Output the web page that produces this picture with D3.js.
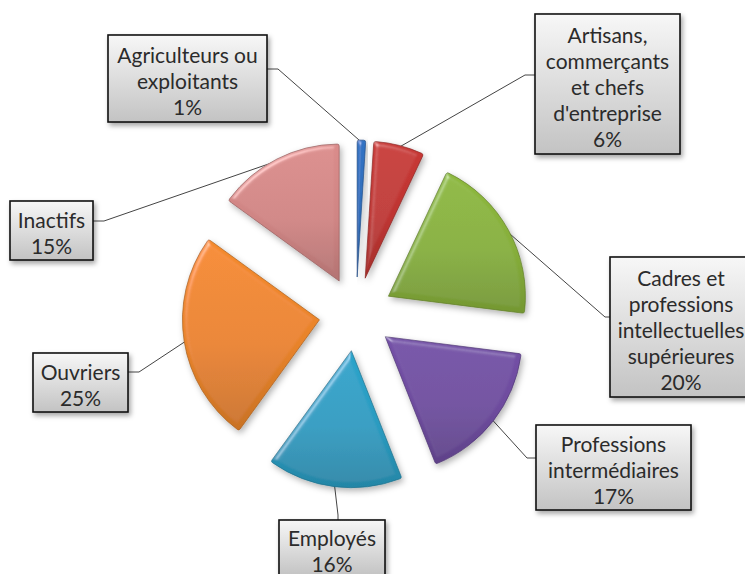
<!DOCTYPE html>
<html>
<head>
<meta charset="utf-8">
<script src="https://cdn.jsdelivr.net/npm/d3@7"></script>
<style>
body { margin: 0; background: #fff; }
svg { display: block; font-family: Lato, "Noto Sans", sans-serif; }
</style>
</head>
<body>
<div id="chart"></div>
<script>
// data
const categories = [
  "Agriculteurs ou exploitants",
  "Artisans, commerçants et chefs d'entreprise",
  "Cadres et professions intellectuelles supérieures",
  "Professions intermédiaires",
  "Employés",
  "Ouvriers",
  "Inactifs"
];
const values = [1, 6, 20, 17, 16, 25, 15];
const labelLines = [
  ["Agriculteurs ou", "exploitants"],
  ["Artisans,", "commerçants", "et chefs", "d'entreprise"],
  ["Cadres et", "professions", "intellectuelles", "supérieures"],
  ["Professions", "intermédiaires"],
  ["Employés"],
  ["Ouvriers"],
  ["Inactifs"]
];
const colors = ["#2F6DBA", "#BE3532", "#86AE3A", "#6E4C9E", "#2A9BC0", "#E8832A", "#CF8584"];

// layout of the label boxes (x, y, w, h) and leader start / elbow
const boxes = [
  {x: 108, y: 35,  w: 159, h: 87,  sx: 267, sy: 69,  ex: 278, ey: 69},
  {x: 535, y: 14,  w: 145, h: 140, sx: 535, sy: 75,  ex: 525, ey: 75},
  {x: 610, y: 257, w: 142, h: 140, sx: 610, sy: 317, ex: 605, ey: 317},
  {x: 536, y: 425, w: 155, h: 85,  sx: 536, sy: 458, ex: 527, ey: 458},
  {x: 279, y: 520, w: 106, h: 56,  sx: 338, sy: 520, ex: 338, ey: 515},
  {x: 33,  y: 353, w: 95,  h: 59,  sx: 128, sy: 372, ex: 139, ey: 372},
  {x: 10,  y: 201, w: 83,  h: 59,  sx: 93,  sy: 221, ex: 104, ey: 221}
];

const width = 745;
const height = 574;
const cx = 356, cy = 314;
const radius = 137;
const explode = 37;
const lineH = 26;

const svg = d3.select("#chart")
  .append("svg")
  .attr("width", width)
  .attr("height", height);

const defs = svg.append("defs");

// bevel + shadow for slices
const bevel = defs.append("filter").attr("id", "bevel")
  .attr("x", "-20%").attr("y", "-20%").attr("width", "140%").attr("height", "140%");
bevel.append("feGaussianBlur").attr("in", "SourceAlpha").attr("stdDeviation", 2.5).attr("result", "b");
bevel.append("feSpecularLighting").attr("in", "b").attr("surfaceScale", 3)
  .attr("specularConstant", 0.8).attr("specularExponent", 28)
  .attr("lighting-color", "#ffffff").attr("result", "s")
  .append("feDistantLight").attr("azimuth", 235).attr("elevation", 40);
bevel.append("feComposite").attr("in", "s").attr("in2", "SourceAlpha").attr("operator", "in").attr("result", "s2");
bevel.append("feComposite").attr("in", "SourceGraphic").attr("in2", "s2")
  .attr("operator", "arithmetic").attr("k1", 0).attr("k2", 1).attr("k3", 0.4).attr("k4", 0).attr("result", "lit");
bevel.append("feGaussianBlur").attr("in", "SourceAlpha").attr("stdDeviation", 3).attr("result", "sb");
bevel.append("feOffset").attr("in", "sb").attr("dx", 2).attr("dy", 3).attr("result", "so");
bevel.append("feFlood").attr("flood-color", "#000").attr("flood-opacity", 0.3).attr("result", "fl");
bevel.append("feComposite").attr("in", "fl").attr("in2", "so").attr("operator", "in").attr("result", "shadow");
const m1 = bevel.append("feMerge");
m1.append("feMergeNode").attr("in", "shadow");
m1.append("feMergeNode").attr("in", "lit");

// box shadow
const bshadow = defs.append("filter").attr("id", "boxshadow")
  .attr("x", "-20%").attr("y", "-20%").attr("width", "140%").attr("height", "150%");
bshadow.append("feDropShadow").attr("dx", 2).attr("dy", 3).attr("stdDeviation", 2.5)
  .attr("flood-color", "#000").attr("flood-opacity", 0.35);

colors.forEach((c, i) => {
  const g = defs.append("linearGradient").attr("id", "grad" + i)
    .attr("x1", 0).attr("y1", 0).attr("x2", 0).attr("y2", 1);
  g.append("stop").attr("offset", "0%").attr("stop-color", d3.color(c).brighter(0.15));
  g.append("stop").attr("offset", "55%").attr("stop-color", c);
  g.append("stop").attr("offset", "100%").attr("stop-color", d3.color(c).darker(0.4));
});

const boxGrad = defs.append("linearGradient").attr("id", "boxgrad")
  .attr("x1", 0).attr("y1", 0).attr("x2", 0).attr("y2", 1);
boxGrad.append("stop").attr("offset", "0%").attr("stop-color", "#f7f7f7");
boxGrad.append("stop").attr("offset", "100%").attr("stop-color", "#c3c3c3");

const pie = d3.pie().sort(null).value(d => d);
const arcs = pie(values);

const arc = d3.arc().innerRadius(0).outerRadius(radius).cornerRadius(2);

function offset(d) {
  const a = (d.startAngle + d.endAngle) / 2;
  return [cx + explode * Math.sin(a), cy - explode * Math.cos(a)];
}

// leader lines
svg.append("g")
  .selectAll("polyline")
  .data(arcs)
  .enter()
  .append("polyline")
  .attr("fill", "none")
  .attr("stroke", "#444")
  .attr("stroke-width", 1)
  .attr("points", (d, i) => {
    const a = (d.startAngle + d.endAngle) / 2;
    const o = offset(d);
    const px = o[0] + (radius - 2) * Math.sin(a);
    const py = o[1] - (radius - 2) * Math.cos(a);
    const b = boxes[i];
    return [[b.sx, b.sy], [b.ex, b.ey], [px, py]].join(" ");
  });

// slices
svg.append("g")
  .selectAll("path")
  .data(arcs)
  .enter()
  .append("path")
  .attr("transform", d => "translate(" + offset(d) + ")")
  .attr("d", arc)
  .attr("fill", (d, i) => "url(#grad" + i + ")")
  .attr("stroke", (d, i) => d3.color(colors[i]).darker(0.9))
  .attr("stroke-width", 1)
  .attr("stroke-opacity", 0.7)
  .attr("filter", "url(#bevel)")
  .append("title")
  .text((d, i) => categories[i]);

// label boxes
const labels = svg.append("g")
  .selectAll("g")
  .data(arcs)
  .enter()
  .append("g");

labels.append("rect")
  .attr("x", (d, i) => boxes[i].x)
  .attr("y", (d, i) => boxes[i].y)
  .attr("width", (d, i) => boxes[i].w)
  .attr("height", (d, i) => boxes[i].h)
  .attr("fill", "url(#boxgrad)")
  .attr("stroke", "#111")
  .attr("stroke-width", 1.6)
  .attr("filter", "url(#boxshadow)");

labels.each(function(d, i) {
  const b = boxes[i];
  const lines = labelLines[i].concat([d.data + "%"]);
  const top = b.y + b.h / 2 - (lines.length - 1) * lineH / 2 + 2;
  d3.select(this).selectAll("text")
    .data(lines)
    .enter()
    .append("text")
    .attr("x", b.x + b.w / 2)
    .attr("y", (t, j) => top + j * lineH)
    .attr("text-anchor", "middle")
    .attr("dominant-baseline", "central")
    .attr("font-size", 21)
    .attr("fill", "#2b2b2b")
    .text(t => t);
});
</script>
</body>
</html>
